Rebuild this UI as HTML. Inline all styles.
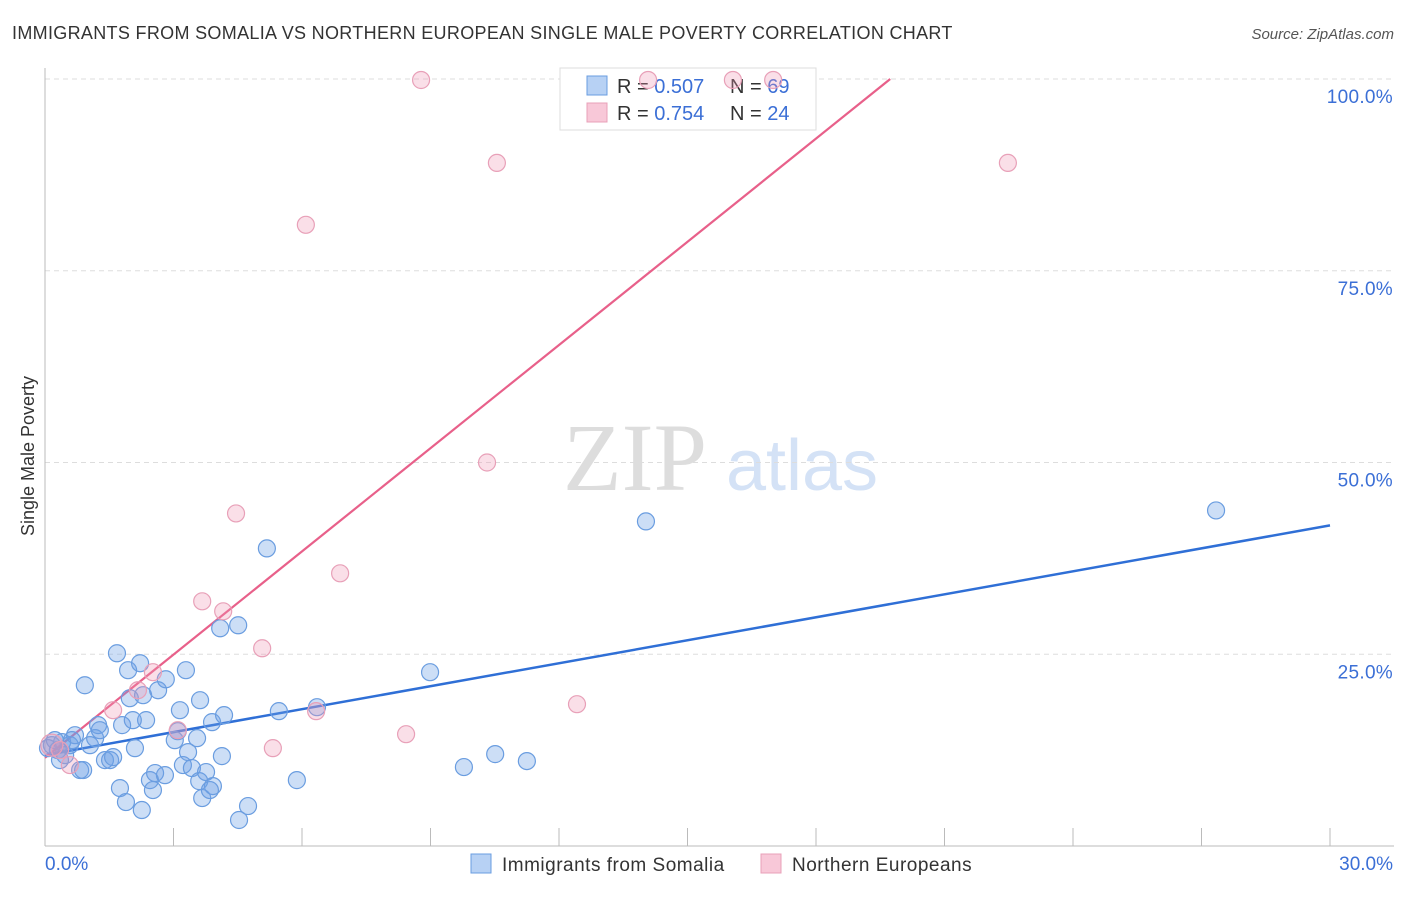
<!DOCTYPE html>
<html><head><meta charset="utf-8"><style>
body{margin:0;background:#fff;font-family:"Liberation Sans",sans-serif;}
</style></head><body>
<svg width="1406" height="892" xmlns="http://www.w3.org/2000/svg" id="chart">
<text x="12" y="39" font-size="18" fill="#333" letter-spacing="0.32">IMMIGRANTS FROM SOMALIA VS NORTHERN EUROPEAN SINGLE MALE POVERTY CORRELATION CHART</text>
<text x="1394" y="39" font-size="15" fill="#555" font-style="italic" text-anchor="end">Source: ZipAtlas.com</text>
<text x="34" y="456" font-size="18" fill="#333" text-anchor="middle" transform="rotate(-90 34 456)">Single Male Poverty</text>
<g>
<text x="635" y="490" font-size="96" fill="#ddd" text-anchor="middle" font-family="Liberation Serif,serif">ZIP</text>
<text x="802" y="490" font-size="72" fill="#d4e2f6" text-anchor="middle">atlas</text>
</g>
<g id="grid"></g>
<g id="axes"></g>
<g>
<rect x="560" y="68" width="256" height="62" fill="#fff" stroke="#ddd"/>
<rect x="587" y="76" width="20" height="19" fill="#b7d1f4" stroke="#6a9de0"/>
<text x="617" y="93" font-size="20" fill="#333">R = <tspan fill="#3b6fd6">0.507</tspan></text>
<text x="730" y="93" font-size="20" fill="#333">N = <tspan fill="#3b6fd6">69</tspan></text>
<rect x="587" y="103" width="20" height="19" fill="#f8c8d8" stroke="#e8a0b8"/>
<text x="617" y="120" font-size="20" fill="#333">R = <tspan fill="#3b6fd6">0.754</tspan></text>
<text x="730" y="120" font-size="20" fill="#333">N = <tspan fill="#3b6fd6">24</tspan></text>
</g>
<g id="lines"></g>
<g id="pts"></g>
<g>
<rect x="471" y="854" width="20" height="19" fill="#b7d1f4" stroke="#6a9de0"/>
<text x="502" y="871" font-size="19" letter-spacing="0.5" fill="#333">Immigrants from Somalia</text>
<rect x="761" y="854" width="20" height="19" fill="#f8c8d8" stroke="#e8a0b8"/>
<text x="792" y="871" font-size="19" letter-spacing="0.5" fill="#333">Northern Europeans</text>
</g>
</svg>
<script>
const blueX=[0.16,0.30,0.40,0.47,0.58,0.70,0.82,0.93,1.05,1.17,1.24,1.28,1.40,1.52,1.68,1.75,1.80,1.89,1.94,1.98,2.10,2.22,2.26,2.29,2.36,2.45,2.52,2.57,2.64,2.82,3.03,3.10,3.15,3.22,3.29,3.34,3.43,3.55,3.60,3.62,3.67,3.76,3.90,3.92,4.09,4.13,4.18,4.51,4.53,4.74,5.18,5.46,5.88,6.35,8.99,9.78,10.51,11.25,14.03,27.34,0.07,0.23,0.35,0.63,0.89,1.59,2.05,2.80,3.85];
const blueY=[13.15,12.5,13.54,11.85,13.15,14.45,9.9,20.96,13.15,14.06,15.76,15.1,11.2,11.2,25.13,7.55,15.76,5.73,22.92,19.27,12.76,23.83,4.69,19.66,16.41,8.59,7.29,9.51,20.31,21.74,13.8,14.97,17.71,10.55,22.92,12.24,10.16,14.06,8.46,19.01,6.25,9.64,16.15,7.81,28.39,11.72,17.06,28.78,3.39,5.21,38.8,17.58,8.59,18.1,22.66,10.29,11.98,11.07,42.32,43.75,12.76,13.8,11.2,13.8,9.9,11.59,16.41,9.24,7.29];
const pinkX=[0.16,0.35,0.58,1.59,2.17,2.52,3.10,3.67,4.16,4.46,5.07,5.32,6.09,6.33,6.89,8.43,8.78,10.32,10.55,12.42,14.08,16.06,17.0,22.48];
const pinkY=[13.15,12.5,10.55,17.71,20.31,22.66,15.1,31.9,30.6,43.36,25.78,12.76,80.99,17.58,35.55,14.58,99.87,50.0,89.06,18.49,99.87,99.87,99.87,89.06];
const blueLine=[11.85,41.8];
const pinkLine=[11.5,4.485];
const yTicks=[25,50,75,100];
const yTickLabels=["25.0%","50.0%","75.0%","100.0%"];
const xTicks=[3,6,9,12,15,18,21,24,27,30];
const xs=v=>45+v/30*1285;
const ys=v=>846-v*7.67;
const NS="http://www.w3.org/2000/svg";
function mk(p,t,a){const e=document.createElementNS(NS,t);for(const k in a)e.setAttribute(k,a[k]);document.getElementById(p).appendChild(e);return e;}
yTicks.forEach((t,i)=>{
 const g=mk('grid','line',{x1:45,x2:1394,y1:ys(t),y2:ys(t),stroke:'#ddd','stroke-dasharray':'5,4'});
 
 
 const l=mk('grid','text',{x:1393,y:ys(t)+24,'font-size':19,fill:'#3b6fd6','text-anchor':'end','letter-spacing':0.3});
 l.textContent=yTickLabels[i];
 
 
});
const ya=mk('axes','line',{x1:45,x2:45,y1:68,y2:846,stroke:'#bbb'});


const xa=mk('axes','line',{x1:45,x2:1394,y1:846,y2:846,stroke:'#bbb'});


xTicks.forEach(t=>{
 const k=mk('axes','line',{x1:xs(t),x2:xs(t),y1:828,y2:846,stroke:'#bbb'});
 
 
});
const x0=mk('axes','text',{x:45,y:870,'font-size':19,fill:'#3b6fd6'});x0.textContent='0.0%';


const x1=mk('axes','text',{x:1393,y:870,'font-size':19,fill:'#3b6fd6','text-anchor':'end'});x1.textContent='30.0%';


blueX.forEach((x,i)=>{
 const c=mk('pts','circle',{cx:xs(x),cy:ys(blueY[i]),r:8.5,fill:'rgba(110,160,230,0.35)',stroke:'#6a9de0','stroke-width':1.2});
 
 
});
pinkX.forEach((x,i)=>{
 const c=mk('pts','circle',{cx:xs(x),cy:ys(pinkY[i]),r:i==0?11:8.5,fill:'rgba(240,150,180,0.3)',stroke:'#e8a0b8','stroke-width':1.2});
 
 
});
const bl=mk('lines','line',{x1:xs(0),y1:ys(blueLine[0]),x2:xs(30),y2:ys(blueLine[1]),stroke:'#2f6fd6','stroke-width':2.5});


const xe=(100-pinkLine[0])/pinkLine[1];
const pl=mk('lines','line',{x1:xs(0),y1:ys(pinkLine[0]),x2:xs(xe),y2:ys(100),stroke:'#e8608a','stroke-width':2.2});


</script>
</body></html>
